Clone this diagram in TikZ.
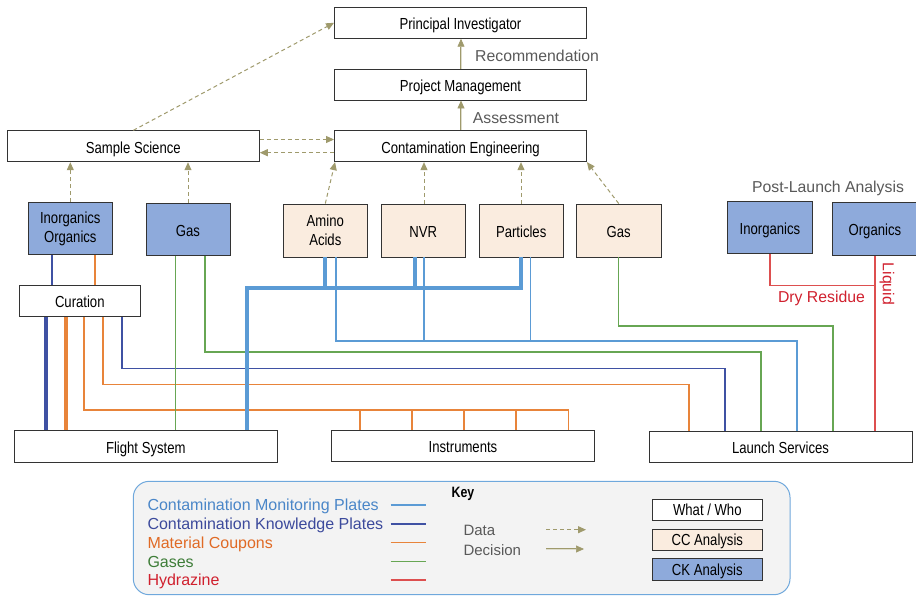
\documentclass[tikz,border=0pt]{standalone}
\usepackage{fontspec}
\setmainfont{Liberation Sans}
\newfontfamily\narrowfont[FakeStretch=0.82]{Liberation Sans}
\usetikzlibrary{arrows.meta}

\definecolor{arrowolive}{HTML}{9F9A6C}
\definecolor{ccfill}{HTML}{FAECDF}
\definecolor{ckfill}{HTML}{8EAADB}
\definecolor{keyfill}{HTML}{F3F3F3}
\definecolor{keyline}{HTML}{6FA8DC}
\definecolor{graytext}{HTML}{595959}
\definecolor{cmpline}{HTML}{5B9BD5}
\definecolor{ckpline}{HTML}{3F51A3}
\definecolor{cpnline}{HTML}{E8843A}
\definecolor{gasline}{HTML}{67A653}
\definecolor{hydline}{HTML}{DD4F4F}
\definecolor{cmptext}{HTML}{4A86C8}
\definecolor{ckptext}{HTML}{3C4A9C}
\definecolor{cpntext}{HTML}{E06A25}
\definecolor{gastext}{HTML}{3E7D38}
\definecolor{hydtext}{HTML}{D0202E}

\begin{document}
\begin{tikzpicture}[x=1pt, y=-1pt,
    whobox/.style={draw=black!80, line width=0.9pt, fill=white, inner sep=0pt,
        font=\narrowfont\fontsize{16}{18.5}\selectfont, align=center,
        text height=14pt, text depth=0pt},
    twolines/.style={text height=, text depth=},
    ccbox/.style={whobox, fill=ccfill},
    ckbox/.style={whobox, fill=ckfill},
    glabel/.style={text=graytext, inner sep=0pt, font=\fontsize{15.8}{18}\selectfont,
        text height=12pt, text depth=0pt},
    keytext/.style={anchor=west, inner sep=0pt, font=\fontsize{16}{18}\selectfont,
        text height=12.5pt, text depth=0pt},
    data/.style={draw=arrowolive, line width=1pt, dash pattern=on 4pt off 3pt,
        -{Triangle[length=8pt,width=7pt]}},
    decision/.style={draw=arrowolive, line width=0.7pt, double=arrowolive!35,
        double distance=0.9pt, -{Triangle[length=8pt,width=7pt]}},
    cmp/.style={draw=cmpline, line width=1.1pt},
    ckp/.style={draw=ckpline, line width=1.1pt},
    cpn/.style={draw=cpnline, line width=1.1pt},
    gas/.style={draw=gasline, line width=1.1pt},
    hyd/.style={draw=hydline, line width=1.1pt},
    thickline/.style={line width=4pt},
    sampleline/.style={line width=1.6pt}]
\useasboundingbox (0,0) rectangle (916,596);

% who / what
\node[whobox, minimum width=252pt, minimum height=31pt] (pi) at (460.5,22.8) {Principal Investigator};
\node[whobox, minimum width=252pt, minimum height=31pt] (pm) at (460.5,84.5) {Project Management};
\node[whobox, minimum width=252pt, minimum height=31pt] (ce) at (460.5,146.2) {Contamination Engineering};
\node[whobox, minimum width=252pt, minimum height=31pt] (ss) at (133.3,146.3) {Sample Science};
\node[whobox, minimum width=121pt, minimum height=31.5pt] (cur) at (79.8,300.8) {Curation};
\node[whobox, minimum width=263pt, minimum height=31.7pt] (fs) at (145.8,446.2) {Flight System};
\node[whobox, minimum width=262.6pt, minimum height=31.7pt] (ins) at (463,445.9) {Instruments};
\node[whobox, minimum width=263pt, minimum height=31.7pt] (ls) at (780.5,446.8) {Launch Services};

% CK analysis
\node[ckbox, twolines, minimum width=84pt, minimum height=52.3pt] (ckio) at (70.3,228.8) {Inorganics\\Organics};
\node[ckbox, minimum width=84pt, minimum height=52.7pt] (ckgas) at (188,229.6) {Gas};
\node[ckbox, minimum width=84.6pt, minimum height=51.6pt] (plinorg) at (770,227.5) {Inorganics};
\node[ckbox, minimum width=84.3pt, minimum height=53.4pt] (plorg) at (874.9,229) {Organics};

% CC analysis
\node[ccbox, twolines, minimum width=84pt, minimum height=53pt] (ccamino) at (325.3,230.5) {Amino\\Acids};
\node[ccbox, minimum width=84pt, minimum height=53pt] (ccnvr) at (423.2,230.5) {NVR};
\node[ccbox, minimum width=84pt, minimum height=53pt] (ccpart) at (521.2,230.5) {Particles};
\node[ccbox, minimum width=84.7pt, minimum height=53pt] (ccgas) at (618.7,230.5) {Gas};

% labels
\node[glabel, anchor=west] (recom) at (475,56) {Recommendation};
\node[glabel, anchor=west] (assess) at (472.7,117.3) {Assessment};
\node[glabel] (pla) at (828,186.7) {Post-Launch Analysis};
\node[glabel, text=hydtext] (dry) at (821.5,296.7) {Dry Residue};
\node[glabel, text=hydtext, rotate=-90, text height=, text depth=] (liquid) at (887,284) {Liquid};

% decisions
\draw[decision] (ce.north -| 461,0) -- (pm.south -| 461,0);
\draw[decision] (pm.north -| 461,0) -- (pi.south -| 461,0);

% data
\draw[data] (ss.north) -- (pi.west);
\draw[data] (ss.east |- 0,139.5) -- (ce.west |- 0,139.5);
\draw[data] (ce.west |- 0,152.7) -- (ss.east |- 0,152.7);
\draw[data] (ckio.north) -- (ckio.north |- ss.south);
\draw[data] (ckgas.north) -- (ckgas.north |- ss.south);
\draw[data] (ccamino.north) -- ([xshift=1pt]ce.south west);
\draw[data] (ccnvr.north -| 424,0) -- (ce.south -| 424,0);
\draw[data] (ccpart.north -| 521,0) -- (ce.south -| 521,0);
\draw[data] (ccgas.north) -- (ce.south east);

% knowledge plates and coupons via curation
\draw[ckp] (ckio.south -| 52,0) -- (cur.north -| 52,0);
\draw[cpn] (ckio.south -| 95,0) -- (cur.north -| 95,0);
\draw[ckp, thickline] (cur.south -| 45.5,0) -- (fs.north -| 45.5,0);
\draw[cpn, thickline] (cur.south -| 65.5,0) -- (fs.north -| 65.5,0);
\draw[cpn] (cur.south -| 84,0) |- (568.5,410) -- (ins.north -| 568.5,0);
\draw[cpn] (360,410) -- (ins.north -| 360,0);
\draw[cpn] (412,410) -- (ins.north -| 412,0);
\draw[cpn] (464,410) -- (ins.north -| 464,0);
\draw[cpn] (516,410) -- (ins.north -| 516,0);
\draw[cpn] (cur.south -| 103,0) |- (689,384.5) -- (ls.north -| 689,0);
\draw[ckp] (cur.south -| 122,0) |- (725,368.5) -- (ls.north -| 725,0);

% gases
\draw[gas] (ckgas.south -| 175.5,0) -- (fs.north -| 175.5,0);
\draw[gas] (ckgas.south -| 205,0) |- (761,352) -- (ls.north -| 761,0);
\draw[gas] (ccgas.south) |- (833,326) -- (ls.north -| 833,0);

% monitoring plates
\draw[cmp, thickline] (ccpart.south -| 521,0) |- (247,288) -- (fs.north -| 247,0);
\draw[cmp, thickline] (ccamino.south -| 325,0) -- (325,288);
\draw[cmp, thickline] (ccnvr.south -| 415,0) -- (415,288);
\draw[cmp] (ccamino.south -| 336,0) |- (797,341) -- (ls.north -| 797,0);
\draw[cmp] (ccnvr.south -| 424,0) -- (424,341);
\draw[cmp] (ccpart.south -| 530.5,0) -- (530.5,341);

% hydrazine
\draw[hyd] (plinorg.south) |- (875,285.7);
\draw[hyd] (plorg.south -| 875,0) -- (ls.north -| 875,0);

% key
\draw[draw=keyline, fill=keyfill, line width=1pt, rounded corners=16pt] (133.3,481.3) rectangle (790,594.7);
\node[inner sep=0pt, font=\narrowfont\bfseries\fontsize{15}{17}\selectfont] (keytitle) at (463,494) {Key};
\node[keytext, text=cmptext] (lcmp) at (147.3,504.7) {Contamination Monitoring Plates};
\node[keytext, text=ckptext] (lckp) at (147.3,523.7) {Contamination Knowledge Plates};
\node[keytext, text=cpntext] (lcpn) at (147.3,542.3) {Material Coupons};
\node[keytext, text=gastext] (lgas) at (147.3,561.3) {Gases};
\node[keytext, text=hydtext] (lhyd) at (147.3,579.7) {Hydrazine};
\draw[cmp, sampleline] (lcmp.east -| 390.7,0) -- (lcmp.east -| 426,0);
\draw[ckp, sampleline] (lckp.east -| 390.7,0) -- (lckp.east -| 426,0);
\draw[cpn, sampleline] (lcpn.east -| 390.7,0) -- (lcpn.east -| 426,0);
\draw[gas, sampleline] (lgas.east -| 390.7,0) -- (lgas.east -| 426,0);
\draw[hyd, sampleline] (lhyd.east -| 390.7,0) -- (lhyd.east -| 426,0);

\node[glabel, anchor=west, font=\fontsize{15}{17}\selectfont] (ldata) at (463.3,529.7) {Data};
\node[glabel, anchor=west, font=\fontsize{15}{17}\selectfont] (ldecision) at (463.3,549) {Decision};
\draw[data] (ldata.east -| 546,0) -- (ldata.east -| 586,0);
\draw[decision] (ldecision.east -| 546,0) -- (ldecision.east -| 584,0);

\node[whobox, text height=11.5pt, minimum width=110pt, minimum height=21pt] (kwho) at (707.3,510.2) {What / Who};
\node[ccbox, text height=11.5pt, minimum width=110pt, minimum height=21.7pt] (kcc) at (707.3,539.8) {CC Analysis};
\node[ckbox, text height=11.5pt, minimum width=110pt, minimum height=22pt] (kck) at (707.3,569.7) {CK Analysis};
\end{tikzpicture}
\end{document}
